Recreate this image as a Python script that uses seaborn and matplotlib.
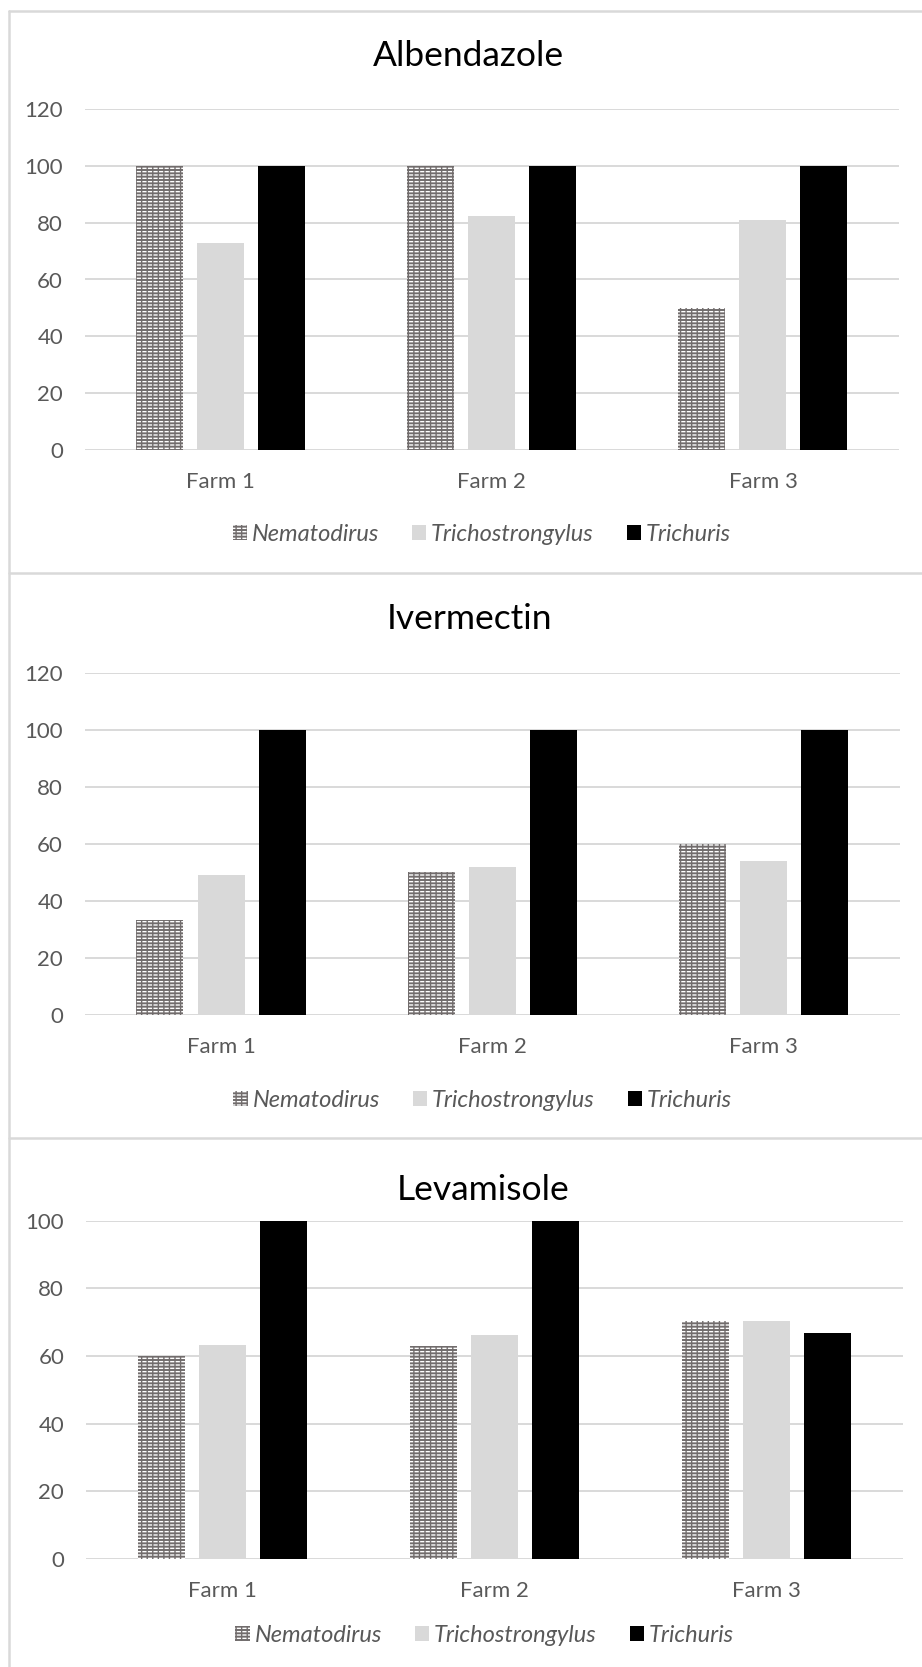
import matplotlib
matplotlib.use("Agg")
import matplotlib.pyplot as plt
import pandas as pd
import seaborn as sns
from matplotlib.patches import Patch, Rectangle
from matplotlib.lines import Line2D
from matplotlib.legend_handler import HandlerTuple

# ---- data -------------------------------------------------------------
farms = ["Farm 1", "Farm 2", "Farm 3"]
species = ["Nematodirus", "Trichostrongylus", "Trichuris"]
drugs = ["Albendazole", "Ivermectin", "Levamisole"]

albendazole_nematodirus = [100, 100, 50]
albendazole_trichostrongylus = [73, 82.3, 81]
albendazole_trichuris = [100, 100, 100]

ivermectin_nematodirus = [33.3, 50, 60]
ivermectin_trichostrongylus = [49, 52, 54.1]
ivermectin_trichuris = [100, 100, 100]

levamisole_nematodirus = [60, 63, 70.5]
levamisole_trichostrongylus = [63.3, 66.1, 70.4]
levamisole_trichuris = [100, 100, 66.7]

y_tops = [120, 120, 100]

drug_values = {
    "Albendazole": [albendazole_nematodirus, albendazole_trichostrongylus, albendazole_trichuris],
    "Ivermectin": [ivermectin_nematodirus, ivermectin_trichostrongylus, ivermectin_trichuris],
    "Levamisole": [levamisole_nematodirus, levamisole_trichostrongylus, levamisole_trichuris],
}

# ---- style ------------------------------------------------------------
sns.set_theme(style="white")
plt.rcParams["font.family"] = ["Lato", "DejaVu Sans"]
plt.rcParams["hatch.linewidth"] = 1.0

W, H = 922, 1667
fig = plt.figure(figsize=(W / 100, H / 100), dpi=100)

species_colors = ["#716c6c", "#d9d9d9", "#000000"]
dash_rows = "-----"      # white dashes on the dark grey fill
dash_breaks = "|||"      # grey breaks that cut the rows into dashes
grid_color = "#d9d9d9"
text_grey = "#595959"


def fx(px):
    return px / W


def fy(py):
    return 1 - py / H


# pixel layout of each panel: axes box (left, top, right, bottom), title, legend
layout = [
    dict(ax=(85.3, 109, 898.5, 450), title=(468.5, 55.5), legend=(482, 534.5)),
    dict(ax=(85.3, 672.8, 899.6, 1015), title=(469.6, 619), legend=(482.5, 1100)),
    dict(ax=(86.4, 1220.8, 902.6, 1559), title=(482.8, 1190), legend=(484.5, 1635)),
]

for drug, top, lay in zip(drugs, y_tops, layout):
    rows = []
    for sp, vals in zip(species, drug_values[drug]):
        for farm, v in zip(farms, vals):
            rows.append({"farm": farm, "species": sp, "value": v})
    df = pd.DataFrame(rows)

    l, t, r, b = lay["ax"]
    ax = fig.add_axes([fx(l), fy(b), fx(r) - fx(l), fy(t) - fy(b)])
    sns.barplot(
        data=df, x="farm", y="value", hue="species",
        order=farms, hue_order=species, palette=species_colors,
        saturation=1, width=0.675, gap=0.23, errorbar=None,
        legend=False, ax=ax, linewidth=0,
    )
    # textured fill for the first species: white dash rows broken by grey ticks
    for p in list(ax.containers[0]):
        p.set_hatch(dash_rows)
        p.set_edgecolor("white")
        p.set_linewidth(0)
        overlay = Rectangle(p.get_xy(), p.get_width(), p.get_height(),
                            fill=False, edgecolor=species_colors[0],
                            linewidth=0, hatch=dash_breaks, zorder=p.get_zorder() + 0.01)
        ax.add_patch(overlay)

    ax.set_xlim(-0.5, 2.5)
    ax.set_ylim(0, top)
    ax.set_yticks(range(0, top + 1, 20))
    ax.yaxis.grid(True, color=grid_color, linewidth=1.4)
    ax.xaxis.grid(False)
    ax.set_axisbelow(True)
    for s in ax.spines.values():
        s.set_visible(False)
    ax.set_xlabel("")
    ax.set_ylabel("")
    ax.tick_params(axis="x", length=0, pad=16, labelsize=16, labelcolor=text_grey)
    ax.tick_params(axis="y", length=0, pad=16, labelsize=16, labelcolor=text_grey)

    fig.text(fx(lay["title"][0]), fy(lay["title"][1]), drug,
             ha="center", va="center", fontsize=25.5, color="black")

    handles = [
        (Patch(facecolor=species_colors[0], edgecolor="white", linewidth=0, hatch=dash_rows),
         Patch(fill=False, edgecolor=species_colors[0], linewidth=0, hatch=dash_breaks)),
        Patch(facecolor=species_colors[1], linewidth=0),
        Patch(facecolor=species_colors[2], linewidth=0),
    ]
    fig.legend(
        handles, species, loc="center",
        bbox_to_anchor=(fx(lay["legend"][0]), fy(lay["legend"][1])),
        ncol=3, frameon=False, prop={"style": "italic", "size": 17},
        labelcolor=text_grey, handlelength=0.6, handleheight=0.6,
        handletextpad=0.2, columnspacing=1.4, borderaxespad=0, borderpad=0,
        handler_map={tuple: HandlerTuple(ndivide=1, pad=0)},
    )

# panel frames
frame_kw = dict(color="#d9d9d9", linewidth=1.8, transform=fig.transFigure)
fig.add_artist(Line2D([fx(9), fx(9)], [fy(11), fy(H)], **frame_kw))
for yy in (11, 573.5, 1138):
    fig.add_artist(Line2D([fx(9), 1], [fy(yy), fy(yy)], **frame_kw))

fig.savefig("out.png", dpi=100)
